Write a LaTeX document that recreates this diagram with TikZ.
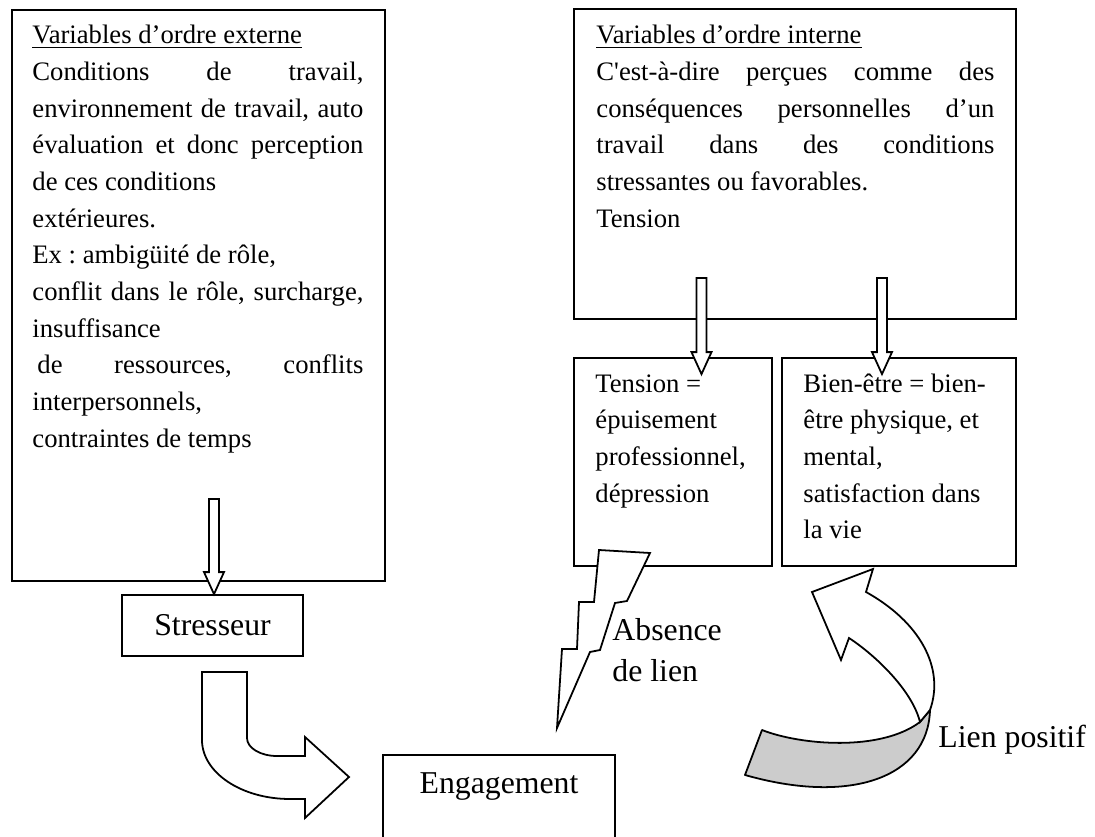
\documentclass[tikz,border=0pt]{standalone}
\usepackage{fontspec}
\setmainfont{Liberation Serif}[Ligatures=TeXOff]
\usetikzlibrary{calc}
\frenchspacing

% a justified line: its inter-word spaces stretch to the full width
\newcommand{\jline}[1]{\makebox[\linewidth][s]{#1}}

\tikzset{
  frame/.style={draw, line width=0.8pt, inner sep=0pt},
  hollow/.style={draw, fill=white, line width=0.8pt, line join=miter},
  bodytext/.style={inner sep=0pt, anchor=base west, font=\fontsize{12}{16.5}\selectfont},
  bigtext/.style={inner sep=0pt, font=\fontsize{14.3}{18.45}\selectfont},
}

% hollow straight arrow pointing down: #1 start, #2 tip
\newcommand{\hollowdown}[2]{%
  \filldraw[hollow] ($(#1)+(-5,0)$) -- ($(#2)+(-5,-22)$) -- ($(#2)+(-10,-22)$)
    -- (#2) -- ($(#2)+(10,-22)$) -- ($(#2)+(5,-22)$) -- ($(#1)+(5,0)$) -- cycle;}

\begin{document}
\begin{tikzpicture}[x=0.45pt,y=-0.45pt]
\useasboundingbox (0,0) rectangle (1095,837);

% ---- boxes ----
\node[frame, minimum width=167.85pt, minimum height=256.95pt] (ext) at (198.5,295.5) {};
\node[frame, minimum width=198.9pt, minimum height=139.5pt] (int) at (795,164) {};
\node[frame, minimum width=89.1pt, minimum height=93.6pt] (ten) at (673,462) {};
\node[frame, minimum width=105.3pt, minimum height=93.6pt] (bien) at (899,462) {};
\node[frame, bigtext, minimum width=81.45pt, minimum height=27.45pt] (str) at (212.5,625.5) {Stresseur};
\begin{scope}
  \clip (0,0) rectangle (1095,837);
  \node[frame, minimum width=104.4pt, minimum height=47.25pt] (eng) at (499,807.5) {};
\end{scope}
\node[bigtext, anchor=base] (engT) at (499,793) {Engagement};

% ---- box texts ----
\node[bodytext] (extT) at (32,44) {\parbox[t]{148.95pt}{%
\underline{Variables d’ordre externe}\\
\jline{Conditions de travail,}\\
\jline{environnement de travail, auto}\\
\jline{évaluation et donc perception}\\
de ces conditions\\
extérieures.\\
Ex : ambigüité de rôle,\\
\jline{conflit dans le rôle, surcharge,}\\
insuffisance\\
\jline{\hspace*{2.25pt}de ressources, conflits}\\
interpersonnels,\\
contraintes de temps}};

\node[bodytext] (intT) at (596,44) {\parbox[t]{179.1pt}{%
\underline{Variables d’ordre interne}\\
\jline{C'est-à-dire perçues comme des}\\
\jline{conséquences personnelles d’un}\\
\jline{travail dans des conditions}\\
stressantes ou favorables.\\
Tension}};

\node[bodytext] (tenT) at (595,392) {\parbox[t]{80pt}{%
Tension =\\
épuisement\\
professionnel,\\
dépression}};

\node[bodytext] (bienT) at (803,392) {\parbox[t]{95pt}{%
Bien-être = bien-\\
être physique, et\\
mental,\\
satisfaction dans\\
la vie}};

% ---- hollow straight arrows ----
\coordinate (s1) at (214,499);
\coordinate (t1) at (s1 |- str.north);
\hollowdown{s1}{t1}
\coordinate (s2) at (701.5,278);
\coordinate (t2) at ($(s2 |- ten.north)+(0,17)$);
\hollowdown{s2}{t2}
\coordinate (s3) at (882,278);
\coordinate (t3) at ($(s3 |- bien.north)+(0,17)$);
\hollowdown{s3}{t3}

% ---- bent arrow from Stresseur towards Engagement ----
\filldraw[hollow]
  (202,672) -- (247,672) -- (247,738)
  .. controls (247,748) and (260.4,756) .. (277,756)
  -- (305,756) -- (305,737) -- (349,777) -- (305,818) -- (305,799) -- (290,799)
  .. controls (241.4,799) and (202,772.6) .. (202,740) -- cycle;

% ---- lightning bolt ----
\filldraw[hollow]
  (599,550) -- (650,553) -- (627,601) -- (615,603) -- (600,650) -- (590,652)
  -- (557,728) -- (562,649) -- (577,649) -- (579,602) -- (594,602) -- cycle;
\node[bigtext, anchor=base west] (absT) at (612,640)
  {\parbox[t]{60pt}{Absence\\de lien}};

% ---- twisted curved arrow towards Bien-être ----
\filldraw[draw, line width=0.8pt, fill=black!20, line join=round]
  (762,730) .. controls (800,745) and (880,752) .. (920,722) -- (930,710)
  .. controls (928,778) and (850,805) .. (745,775) -- cycle;
\filldraw[hollow]
  (873,569) -- (812,592) -- (841,660) -- (849,638)
  .. controls (875,655) and (912,690) .. (920,722) -- (930,710)
  .. controls (945,668) and (920,622) .. (866,592) -- cycle;
\node[bigtext, anchor=base west] (lienT) at (938,747) {Lien positif};

\end{tikzpicture}
\end{document}
